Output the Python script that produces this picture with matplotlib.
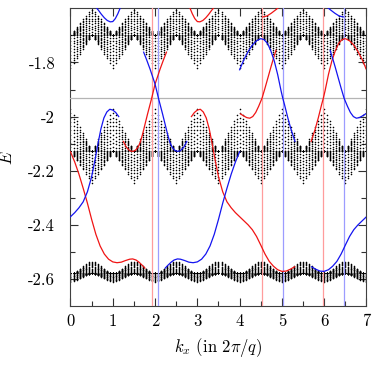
import numpy as np
import matplotlib
matplotlib.use("Agg")
import matplotlib.pyplot as plt

plt.rcParams.update({
    "font.family": "serif",
    "font.serif": ["cmr10"],
    "mathtext.fontset": "cm",
    "axes.unicode_minus": False,
    "axes.formatter.use_mathtext": True,
    "font.size": 12,
})

# ---------------- bulk bands ----------------
# envelopes over one period k = 0, 1/14, ..., 1 (in units of 2pi/q); repeated over 7 periods
N_PERIODS = 7
N_PER_PERIOD = 14

top_center = -1.698
top_upper = [-1.698, -1.684, -1.669, -1.655, -1.641, -1.627, -1.612, -1.598,
             -1.612, -1.627, -1.641, -1.655, -1.669, -1.684, -1.698]
top_lower = [-1.820, -1.803, -1.785, -1.768, -1.750, -1.733, -1.715, -1.698,
             -1.715, -1.733, -1.750, -1.768, -1.785, -1.803, -1.820]

mid_center = -2.129
mid_upper = [-1.973, -1.995, -2.018, -2.040, -2.062, -2.084, -2.107, -2.129,
             -2.107, -2.084, -2.062, -2.040, -2.018, -1.995, -1.973]
mid_lower = [-2.129, -2.146, -2.162, -2.179, -2.195, -2.212, -2.228, -2.245,
             -2.228, -2.212, -2.195, -2.179, -2.162, -2.146, -2.129]

bot_center = -2.579
bot_upper = [-2.579, -2.577, -2.571, -2.562, -2.553, -2.544, -2.538, -2.536,
             -2.538, -2.544, -2.553, -2.562, -2.571, -2.577, -2.579]
bot_lower = [-2.610, -2.608, -2.604, -2.598, -2.591, -2.585, -2.581, -2.579,
             -2.581, -2.585, -2.591, -2.598, -2.604, -2.608, -2.610]

# relative position of the strip sub-levels inside each band family
sublevels = [0.0, 0.1, 0.2, 0.3, 0.4, 0.5, 0.6, 0.7, 0.8, 0.9, 1.0]

# ---------------- edge states ----------------
red_A_k = [0, 0.1, 0.2, 0.3, 0.4, 0.5, 0.6, 0.7, 0.8, 0.9, 1.0, 1.1, 1.2, 1.3, 1.4, 1.47, 1.55, 1.62, 1.7, 1.76]
red_A_E = [-2.13, -2.168, -2.213, -2.265, -2.32, -2.38, -2.435, -2.478, -2.508, -2.527, -2.537, -2.54,
           -2.538, -2.532, -2.527, -2.526, -2.53, -2.538, -2.55, -2.56]
blue_A2_k = [4.0, 3.9, 3.8, 3.7, 3.6, 3.5, 3.4, 3.3, 3.2, 3.1, 3.0, 2.9, 2.8, 2.7, 2.6, 2.53, 2.45, 2.38, 2.3, 2.24]
blue_A2_E = [-2.13, -2.168, -2.213, -2.265, -2.32, -2.38, -2.435, -2.478, -2.508, -2.527, -2.537, -2.54,
             -2.538, -2.532, -2.527, -2.526, -2.53, -2.538, -2.55, -2.56]

red_B_k = [1.25, 1.32, 1.4, 1.47, 1.54, 1.6, 1.65, 1.7, 1.76, 1.82, 1.87, 1.92, 1.96, 2.0, 2.06, 2.12, 2.2, 2.27]
red_B_E = [-2.092, -2.113, -2.126, -2.129, -2.124, -2.112, -2.095, -2.068, -2.03, -1.992, -1.962, -1.932,
           -1.906, -1.88, -1.852, -1.824, -1.79, -1.762]
blue_B_k = [2.75, 2.68, 2.6, 2.53, 2.46, 2.4, 2.35, 2.3, 2.24, 2.18, 2.13, 2.08, 2.04, 2.0, 1.94, 1.88, 1.8, 1.73]
blue_B_E = [-2.092, -2.113, -2.126, -2.129, -2.124, -2.112, -2.095, -2.068, -2.03, -1.992, -1.962, -1.932,
            -1.906, -1.88, -1.852, -1.824, -1.79, -1.762]

blue_U_k = [0.6, 0.66, 0.73, 0.8, 0.87, 0.94, 1.0, 1.06, 1.12, 1.18]
blue_U_E = [-1.596, -1.607, -1.622, -1.635, -1.645, -1.65, -1.649, -1.638, -1.62, -1.597]
red_U_k = [3.4, 3.34, 3.27, 3.2, 3.13, 3.06, 3.0, 2.94, 2.88, 2.82]
red_U_E = [-1.596, -1.607, -1.622, -1.635, -1.645, -1.65, -1.649, -1.638, -1.62, -1.597]

red_D_k = [2.86, 2.93, 3.0, 3.07, 3.14, 3.21, 3.28, 3.35, 3.42, 3.5, 3.6, 3.7, 3.8, 3.9, 4.0,
           4.1, 4.2, 4.3, 4.4, 4.5, 4.6, 4.7, 4.8, 4.9, 5.0, 5.1, 5.2, 5.3]
red_D_E = [-2.0, -1.985, -1.976, -1.973, -1.983, -2.005, -2.045, -2.1, -2.16, -2.222, -2.278, -2.315,
           -2.337, -2.355, -2.37, -2.385, -2.40, -2.418, -2.443, -2.475, -2.508, -2.535, -2.553,
           -2.566, -2.572, -2.571, -2.564, -2.555]
blue_A_k = [1.14, 1.07, 1.0, 0.93, 0.86, 0.79, 0.72, 0.65, 0.58, 0.5, 0.4, 0.3, 0.2, 0.1, 0.0]
blue_A_E = [-2.0, -1.985, -1.976, -1.973, -1.983, -2.005, -2.045, -2.1, -2.16, -2.222, -2.278, -2.315,
            -2.337, -2.355, -2.37]
blue_D_k = [7.0, 6.9, 6.8, 6.7, 6.6, 6.5, 6.4, 6.3, 6.2, 6.1, 6.0, 5.9, 5.8, 5.7]
blue_D_E = [-2.37, -2.385, -2.40, -2.418, -2.443, -2.475, -2.508, -2.535, -2.553, -2.566, -2.572,
            -2.571, -2.564, -2.555]

red_C_k = [4.02, 4.1, 4.17, 4.24, 4.31, 4.38, 4.45, 4.53, 4.6, 4.67, 4.74, 4.8, 4.86]
red_C_E = [-1.99, -1.998, -2.004, -2.006, -2.0, -1.985, -1.962, -1.932, -1.895, -1.856, -1.817, -1.785, -1.755]
blue_C_k = [6.98, 6.9, 6.83, 6.76, 6.69, 6.62, 6.55, 6.47, 6.4, 6.33, 6.26, 6.2, 6.14]
blue_C_E = [-1.99, -1.998, -2.004, -2.006, -2.0, -1.985, -1.962, -1.932, -1.895, -1.856, -1.817, -1.785, -1.755]

blue_E_k = [4.0, 4.1, 4.2, 4.3, 4.4, 4.5, 4.58, 4.66, 4.74, 4.82, 4.9, 4.98, 5.02, 5.06, 5.14, 5.22, 5.31]
blue_E_E = [-1.827, -1.79, -1.76, -1.736, -1.72, -1.712, -1.716, -1.73, -1.758, -1.795, -1.845, -1.905,
            -1.932, -1.955, -2.005, -2.05, -2.092]
red_E_k = [7.0, 6.9, 6.8, 6.7, 6.6, 6.5, 6.42, 6.34, 6.26, 6.18, 6.1, 6.02, 5.98, 5.94, 5.86, 5.78, 5.69]
red_E_E = [-1.827, -1.79, -1.76, -1.736, -1.72, -1.712, -1.716, -1.73, -1.758, -1.795, -1.845, -1.905,
           -1.932, -1.955, -2.005, -2.05, -2.092]

red_T_k = [4.55, 4.65, 4.75, 4.85, 4.93]
red_T_E = [-1.632, -1.628, -1.618, -1.606, -1.596]
blue_T_k = [6.45, 6.35, 6.25, 6.15, 6.07]
blue_T_E = [-1.632, -1.628, -1.618, -1.606, -1.596]

red_curves = [(red_A_k, red_A_E), (red_B_k, red_B_E), (red_U_k, red_U_E), (red_D_k, red_D_E),
              (red_C_k, red_C_E), (red_E_k, red_E_E), (red_T_k, red_T_E)]
blue_curves = [(blue_A2_k, blue_A2_E), (blue_B_k, blue_B_E), (blue_U_k, blue_U_E), (blue_A_k, blue_A_E),
               (blue_D_k, blue_D_E), (blue_C_k, blue_C_E), (blue_E_k, blue_E_E), (blue_T_k, blue_T_E)]

fermi_E = -1.932
red_marks = [1.92, 4.53, 5.98]
blue_marks = [2.08, 5.02, 6.47]

x_ticks = [0, 1, 2, 3, 4, 5, 6, 7]
x_minor = [0.5, 1.5, 2.5, 3.5, 4.5, 5.5, 6.5]
y_ticks = [-2.6, -2.4, -2.2, -2.0, -1.8]
y_ticklabels = ["-2.6", "-2.4", "-2.2", "-2", "-1.8"]
y_minor = [-2.5, -2.3, -2.1, -1.9, -1.7]

# ---------------- figure ----------------
fig = plt.figure(figsize=(3.74, 3.66), dpi=100)
ax = fig.add_axes([0.1885, 0.1639, 0.7914, 0.8134])

k_bulk = np.arange(N_PERIODS * N_PER_PERIOD + 1) / N_PER_PERIOD


def tile(profile):
    p = np.asarray(profile, dtype=float)
    return np.concatenate([np.tile(p[:-1], N_PERIODS), p[-1:]])


xs, ys = [], []
for center, envs in [(top_center, (top_upper, top_lower)),
                     (mid_center, (mid_upper, mid_lower)),
                     (bot_center, (bot_upper, bot_lower))]:
    for env in envs:
        e = tile(env)
        for f in sublevels:
            xs.append(k_bulk)
            ys.append(center + f * (e - center))
ax.scatter(np.concatenate(xs), np.concatenate(ys), s=1.3, c="black", linewidths=0, zorder=2)

ax.axhline(fermi_E, color="#b4b4b4", lw=0.9, zorder=3)
for kx in red_marks:
    ax.axvline(kx, color="#ff9c9c", lw=0.9, zorder=3)
for kx in blue_marks:
    ax.axvline(kx, color="#9c9cff", lw=0.9, zorder=3)

for kk, ee in red_curves:
    ax.plot(kk, ee, color="#f01414", lw=0.9, zorder=4)
for kk, ee in blue_curves:
    ax.plot(kk, ee, color="#1414f0", lw=0.9, zorder=4)

ax.set_xlim(0, 7)
ax.set_ylim(-2.7, -1.6)
ax.set_xticks(x_ticks)
ax.set_xticklabels([str(v) for v in x_ticks])
ax.set_xticks(x_minor, minor=True)
ax.set_yticks(y_ticks)
ax.set_yticklabels(y_ticklabels)
ax.set_yticks(y_minor, minor=True)
ax.tick_params(which="both", direction="in", top=True, right=True, width=0.8, color="#303030")
ax.tick_params(which="major", length=5.5)
ax.tick_params(which="minor", length=3.3)
ax.tick_params(axis="x", which="both", pad=5.5)
ax.tick_params(axis="y", which="both", pad=11)
for sp in ax.spines.values():
    sp.set_linewidth(0.8)
    sp.set_color("#404040")

ax.set_xlabel(r"$k_x$ (in $2\pi/q$)")
ax.xaxis.set_label_coords(0.5, -0.10)
ax.set_ylabel(r"$E$")
ax.yaxis.set_label_coords(-0.1875, 0.5)

fig.savefig("out.png", dpi=100)
